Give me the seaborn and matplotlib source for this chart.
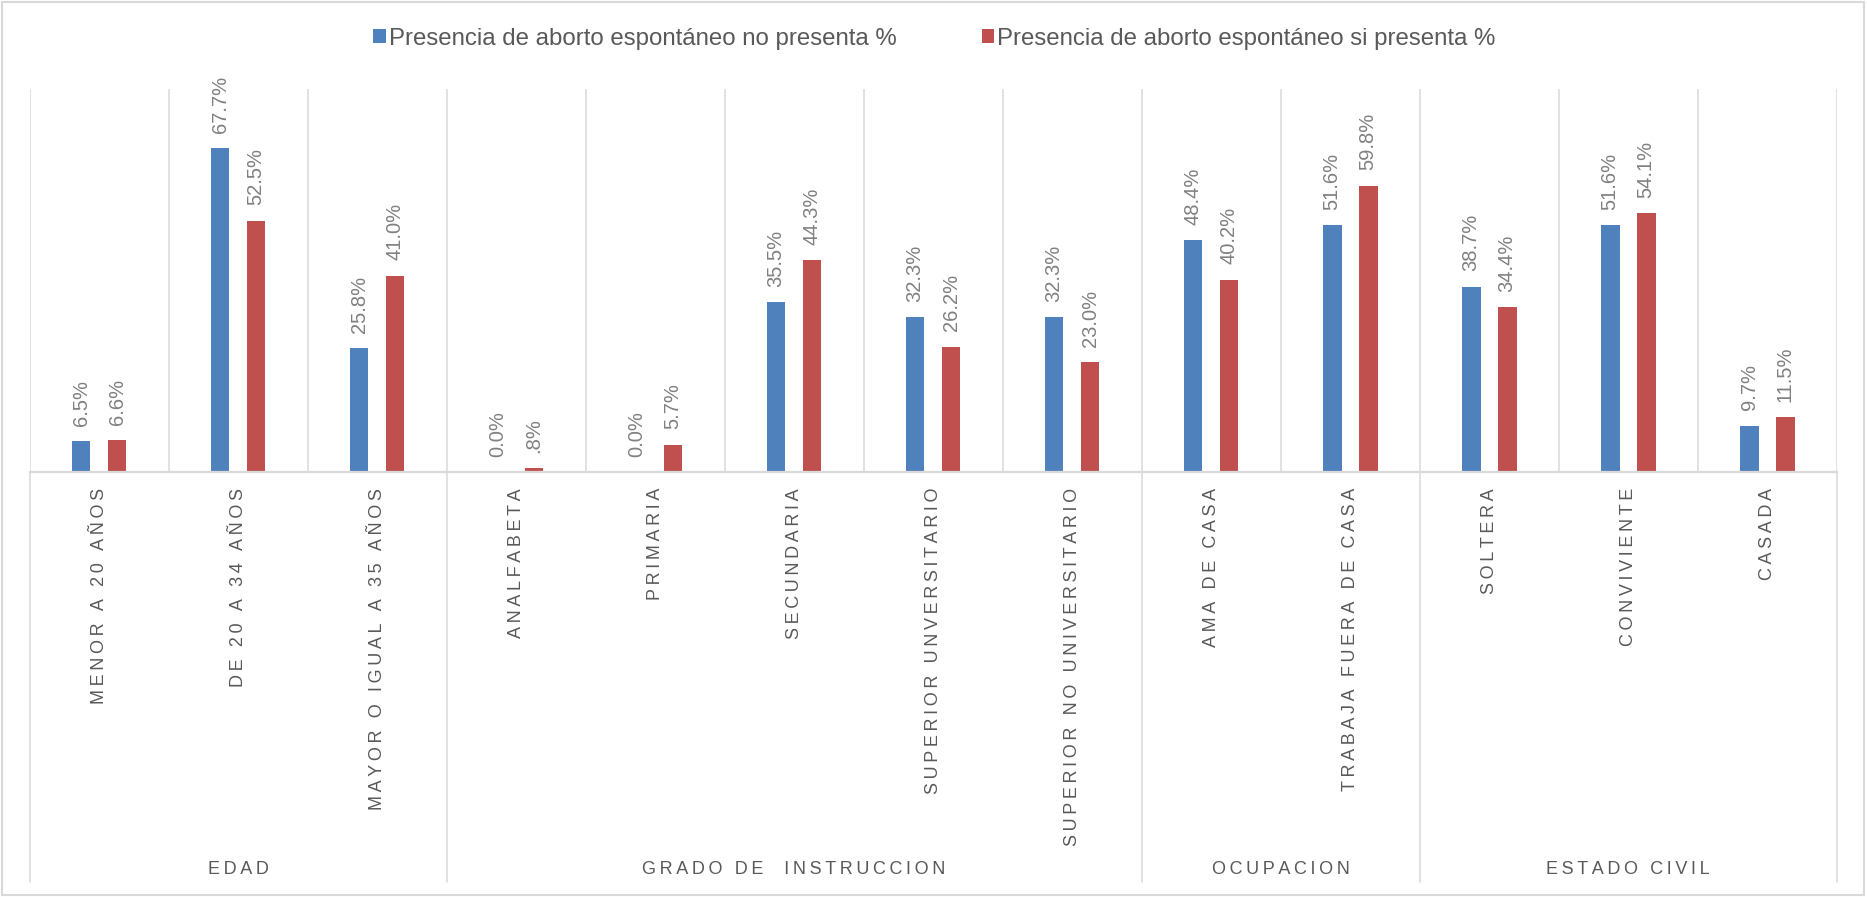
import matplotlib
matplotlib.use("Agg")
import matplotlib.pyplot as plt
from matplotlib.patches import Patch, Rectangle
import pandas as pd
import seaborn as sns

# Category labels (bottom level) and their groups (second level)
categorias = [
    "MENOR A 20 AÑOS", "DE 20 A 34 AÑOS", "MAYOR O IGUAL A 35 AÑOS",
    "ANALFABETA", "PRIMARIA", "SECUNDARIA", "SUPERIOR UNVERSITARIO",
    "SUPERIOR NO UNIVERSITARIO",
    "AMA DE CASA", "TRABAJA FUERA DE CASA",
    "SOLTERA", "CONVIVIENTE", "CASADA",
]
grupos = ["EDAD", "GRADO DE  INSTRUCCION", "OCUPACION", "ESTADO CIVIL"]
tamanos_grupo = [3, 5, 2, 3]

# Percentages per series
no_presenta = [6.5, 67.7, 25.8, 0.0, 0.0, 35.5, 32.3, 32.3, 48.4, 51.6, 38.7, 51.6, 9.7]
si_presenta = [6.6, 52.5, 41.0, 0.8, 5.7, 44.3, 26.2, 23.0, 40.2, 59.8, 34.4, 54.1, 11.5]

serie_no = "Presencia de aborto espontáneo no presenta %"
serie_si = "Presencia de aborto espontáneo si presenta %"

AZUL = "#4F81BD"
ROJO = "#C0504D"
GRIS_LINEA = "#D9D9D9"
GRIS_TEXTO = "#595959"
GRIS_VALOR = "#808080"

sns.set_style("white")
plt.rcParams["font.family"] = ["Liberation Sans", "DejaVu Sans"]

df = pd.DataFrame({
    "categoria": categorias * 2,
    "valor": no_presenta + si_presenta,
    "serie": [serie_no] * len(categorias) + [serie_si] * len(categorias),
})


def espaciado(texto):
    """Spread letters apart with thin spaces."""
    return "\u2009".join(texto)


def etiqueta(v):
    s = f"{v:.1f}%"
    if 0 < v < 1:
        s = s[1:]
    return s


W, H = 1867, 897
fig = plt.figure(figsize=(W / 100, H / 100), dpi=100)
fig.patch.set_facecolor("white")

x0, x1 = 29.5, 1836.7
y_base, y_top = 472.0, 89.0
ax = fig.add_axes([x0 / W, 1 - y_base / H, (x1 - x0) / W, (y_base - y_top) / H])

sns.barplot(
    data=df, x="categoria", y="valor", hue="serie", order=categorias,
    hue_order=[serie_no, serie_si], palette=[AZUL, ROJO],
    width=0.518, gap=0.48, dodge=True, legend=False, ax=ax,
    linewidth=0, saturation=1,
)

ax.set_xlim(-0.5, len(categorias) - 0.5)
ax.set_ylim(0, 80)
ax.set_yticks([])
ax.set_xlabel("")
ax.set_ylabel("")
for side in ["top", "right", "left"]:
    ax.spines[side].set_visible(False)
ax.spines["bottom"].set_color(GRIS_LINEA)
ax.spines["bottom"].set_linewidth(1.6)

# value labels
for cont in ax.containers:
    ax.bar_label(
        cont, labels=[etiqueta(v) for v in cont.datavalues], rotation=90,
        padding=11, color=GRIS_VALOR, fontsize=14.5,
    )

# category labels
ax.set_xticks(range(len(categorias)))
ax.set_xticklabels([espaciado(c) for c in categorias], rotation=90,
                   va="top", ha="center", color=GRIS_TEXTO, fontsize=13.0)
ax.tick_params(axis="x", length=0, pad=11.5)

# vertical separators inside the plot area
for k in range(len(categorias) + 1):
    ax.axvline(k - 0.5, color=GRIS_LINEA, lw=1.1, zorder=0)

# group separators extending through the label area
trans = ax.get_xaxis_transform()
y_sep = -(882 - y_base) / (y_base - y_top)
limites = [0]
for n in tamanos_grupo:
    limites.append(limites[-1] + n)
for b in limites:
    ax.plot([b - 0.5, b - 0.5], [0, y_sep], transform=trans, color=GRIS_LINEA,
            lw=1.1, clip_on=False)

# group labels
y_grupo = -(870 - y_base) / (y_base - y_top)
for g, a, b in zip(grupos, limites[:-1], limites[1:]):
    ax.text((a + b - 1) / 2, y_grupo, espaciado(g), transform=trans,
            ha="center", va="center", color=GRIS_TEXTO, fontsize=13.0)

# legend
handles = [Patch(facecolor=AZUL, edgecolor="none", label=serie_no),
           Patch(facecolor=ROJO, edgecolor="none", label=serie_si)]
fig.legend(handles=handles, loc="center", bbox_to_anchor=(934.5 / W, 1 - 38.5 / H),
           ncol=2, frameon=False, fontsize=17.3, handlelength=0.52,
           handleheight=0.52, handletextpad=0.12, columnspacing=3.55,
           labelcolor=GRIS_TEXTO, borderaxespad=0, borderpad=0)

# outer frame
fig.add_artist(Rectangle((1.5 / W, 2 / H), (W - 5) / W, (H - 4) / H,
                         transform=fig.transFigure, fill=False,
                         edgecolor=GRIS_LINEA, lw=1.5))

fig.savefig("out.png", dpi=100, facecolor="white")
